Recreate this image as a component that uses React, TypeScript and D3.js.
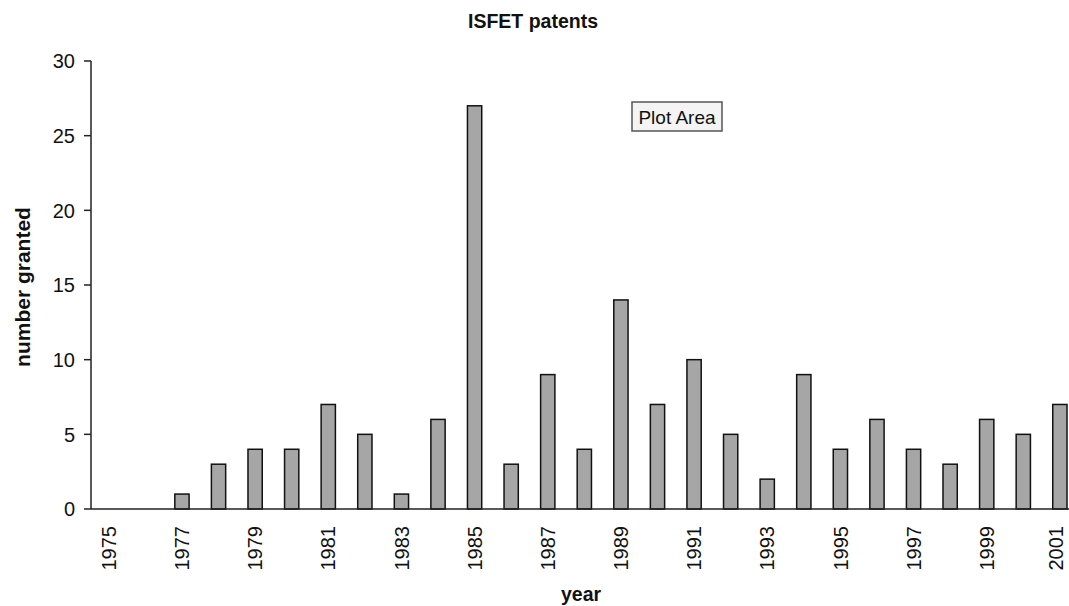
import React from "react";
import * as d3 from "d3";

const years: string[] = ["1975","1976","1977","1978","1979","1980","1981","1982","1983","1984","1985","1986","1987","1988","1989","1990","1991","1992","1993","1994","1995","1996","1997","1998","1999","2000","2001"];
const granted: number[] = [0,0,1,3,4,4,7,5,1,6,27,3,9,4,14,7,10,5,2,9,4,6,4,3,6,5,7];
const yTicks: number[] = [0,5,10,15,20,25,30];
const xTickLabels: string[] = years.filter((_, i) => i % 2 === 0);

const W = 1069, H = 606;
const left = 91, top = 61, bottom = 509;

export default function App() {
  const x = d3.scaleBand<string>().domain(years).range([90.5, 90.5 + 27 * 36.58]).paddingInner(0.61).paddingOuter(0.305);
  const y = d3.scaleLinear().domain([0, 30]).range([bottom, top]);
  const font = "'Liberation Sans', Arial, sans-serif";
  return (
    <svg width={W} height={H} style={{ position: "absolute", left: 0, top: 0, background: "#fff" }} fontFamily={font}>
      <text x={533} y={28} textAnchor="middle" fontSize={19.5} fontWeight="bold" fill="#111">ISFET patents</text>
      {granted.map((v, i) => (
        <rect key={years[i]} x={x(years[i])!} y={y(v)} width={x.bandwidth()} height={bottom - y(v)}
          fill="#a6a6a6" stroke="#111" strokeWidth={1.5} style={{ display: v > 0 ? undefined : "none" }} />
      ))}
      <line x1={left} x2={W} y1={bottom} y2={bottom} stroke="#222" strokeWidth={1.5} />
      <line x1={left} x2={left} y1={top} y2={bottom} stroke="#222" strokeWidth={1.5} />
      {yTicks.map(t => (
        <g key={t}>
          <line x1={left - 7} x2={left} y1={y(t)} y2={y(t)} stroke="#222" strokeWidth={1.5} />
          <text x={left - 16} y={y(t)} dy="0.36em" textAnchor="end" fontSize={20} fill="#111">{t}</text>
        </g>
      ))}
      {xTickLabels.map(l => {
        const cx = x(l)! + x.bandwidth() / 2;
        return (
          <text key={l} transform={`translate(${Math.min(cx, 1056)},${bottom + 17}) rotate(-90)`} textAnchor="end" dy="0.36em" fontSize={20} fill="#111">{l}</text>
        );
      })}
      <text transform={`translate(30,${(top + bottom) / 2 + 2}) rotate(-90)`} textAnchor="middle" fontSize={21} fontWeight="bold" fill="#111">number granted</text>
      <text x={581} y={601} textAnchor="middle" fontSize={19.5} fontWeight="bold" fill="#111">year</text>
      <rect x={632} y={102} width={90} height={29} fill="#f4f4f4" stroke="#555" strokeWidth={1.5} />
      <text x={677} y={117} dy="0.36em" textAnchor="middle" fontSize={19} fill="#111">Plot Area</text>
    </svg>
  );
}
